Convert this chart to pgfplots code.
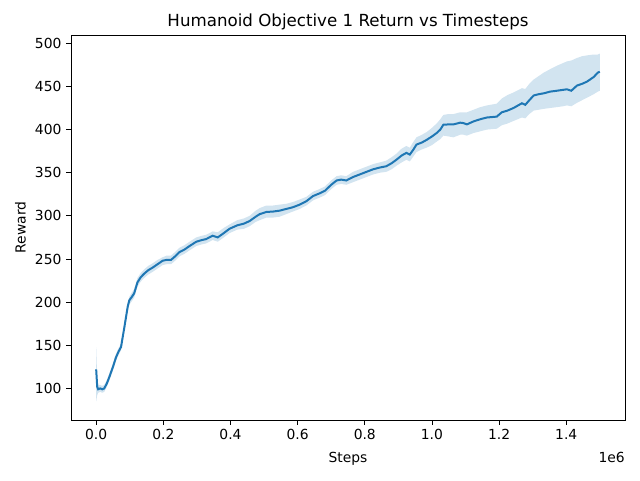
\documentclass[border=0pt]{standalone}
\usepackage{pgfplots}
\pgfplotsset{compat=1.18}
\usepgfplotslibrary{fillbetween}
\usepackage{fontspec}
\setmainfont{DejaVu Sans}
\definecolor{c0}{HTML}{1F77B4}
\pgfplotstableread{
x mean lo hi
0.000 122 85 148
0.003 102 92 112
0.006 99 95 104
0.012 100 96 104
0.018 99 95 103
0.024 100 96 104
0.032 106 102 110
0.039 113 109 117
0.050 125 121 129
0.059 136 132 140
0.067 143 139 147
0.074 148 144 152
0.084 171 167 175
0.094 195 190 199
0.0985 202 197 206
0.106 206 201 211
0.113 210 205 215
0.123 223 218 228
0.133 229 224 234
0.143 233 228 238
0.155 237 232 242
0.168 240 235 245
0.183 244 239 249
0.198 248 243 252
0.210 249 244 254
0.223 249 244 254
0.235 253 248 258
0.248 258 253 263
0.263 261 256 266
0.278 265 260 270
0.298 270 265 275
0.315 272 267 277
0.327 273 268 278
0.347 277 272 282
0.362 275 270 281
0.380 280 275 286
0.397 285 280 290
0.420 289 284 295
0.440 291 285 297
0.457 294 288 300
0.475 299 293 306
0.487 302 295 309
0.507 304.5 298 312
0.527 305 298 312
0.546 306 299 313
0.566 308 302 314
0.586 310 305 316
0.606 313 308 319
0.626 317 312 322
0.646 323 318 328
0.665 326 321 331
0.681 329 324 334
0.700 336 331 341
0.716 341 336 346
0.730 342 337 347
0.745 341 336 346
0.765 345 339 351
0.785 348 342 354
0.805 351 345 357
0.825 354 348 360
0.845 356 350 362
0.864 357.5 351 364
0.880 361 354 368
0.894 365 358 372
0.910 370 362 378
0.924 373 365 381
0.934 371 363 379
0.945 377 369 386
0.954 382.6 374 391
0.970 385 377 394
0.984 388 379 397
1.000 392 382 402
1.014 396 386 407
1.025 400 389 412
1.034 405.6 393 417
1.050 406 392 418
1.064 406 391 418
1.084 408 394 420
1.094 407.5 394 420
1.104 406 393 420
1.124 409.5 396 423
1.144 412 398 426
1.164 414 400 428
1.193 415 401 430
1.208 420 405 436
1.225 422 407 440
1.243 425 410 443
1.268 430.5 414 448
1.278 428.7 413 447
1.290 434 418 453
1.303 439.5 422 458
1.318 441 423 462
1.333 442 424 466
1.352 444 425 470
1.372 445 426 474
1.390 446 427 477
1.402 446.7 428 479
1.415 445 427 480
1.432 451 431 483
1.447 453 434 485
1.462 455.6 437 486
1.482 461 441 487
1.494 466 444 487
1.500 467 445 488
}\datatable
\begin{document}
\begin{tikzpicture}
\begin{axis}[
  at={(0pt,0pt)}, anchor=south west,
  scale only axis, width=415.5pt, height=288.75pt,
  xmin=-0.075, xmax=1.575, ymin=63.4, ymax=509.6,
  xtick={0,0.2,0.4,0.6,0.8,1.0,1.2,1.4},
  xticklabels={0.0,0.2,0.4,0.6,0.8,1.0,1.2,1.4},
  ytick={100,150,200,250,300,350,400,450,500},
  tick pos=left, tick align=outside,
  major tick length=3.65pt,
  every tick/.style={black, line width=0.6pt},
  axis line style={line width=0.6pt},
  /pgf/number format/assume math mode=true,
  tick label style={font=\fontsize{10.4}{12}\selectfont},
  label style={font=\fontsize{10.4}{12}\selectfont},
  xlabel={Steps}, ylabel={Reward},
  xlabel style={yshift=-2.25pt},
  title={Humanoid Objective 1 Return vs Timesteps},
  title style={font=\fontsize{12.5}{14}\selectfont, yshift=-5.5pt},
]
\addplot[draw=none, name path=hi, forget plot] table[x=x, y=hi] {\datatable};
\addplot[draw=none, name path=lo, forget plot] table[x=x, y=lo] {\datatable};
\addplot[fill=c0, fill opacity=0.2, draw=none] fill between[of=hi and lo];
\addplot[c0, line width=1.5pt, mark=none] table[x=x, y=mean] {\datatable};
\end{axis}
\node[anchor=north east, font=\fontsize{10.4}{12}\selectfont, inner sep=0pt] at (415.5pt,-24pt) {1e6};
\path (-53.25pt,-45pt) rectangle (426.75pt,315pt);
\end{tikzpicture}
\end{document}
